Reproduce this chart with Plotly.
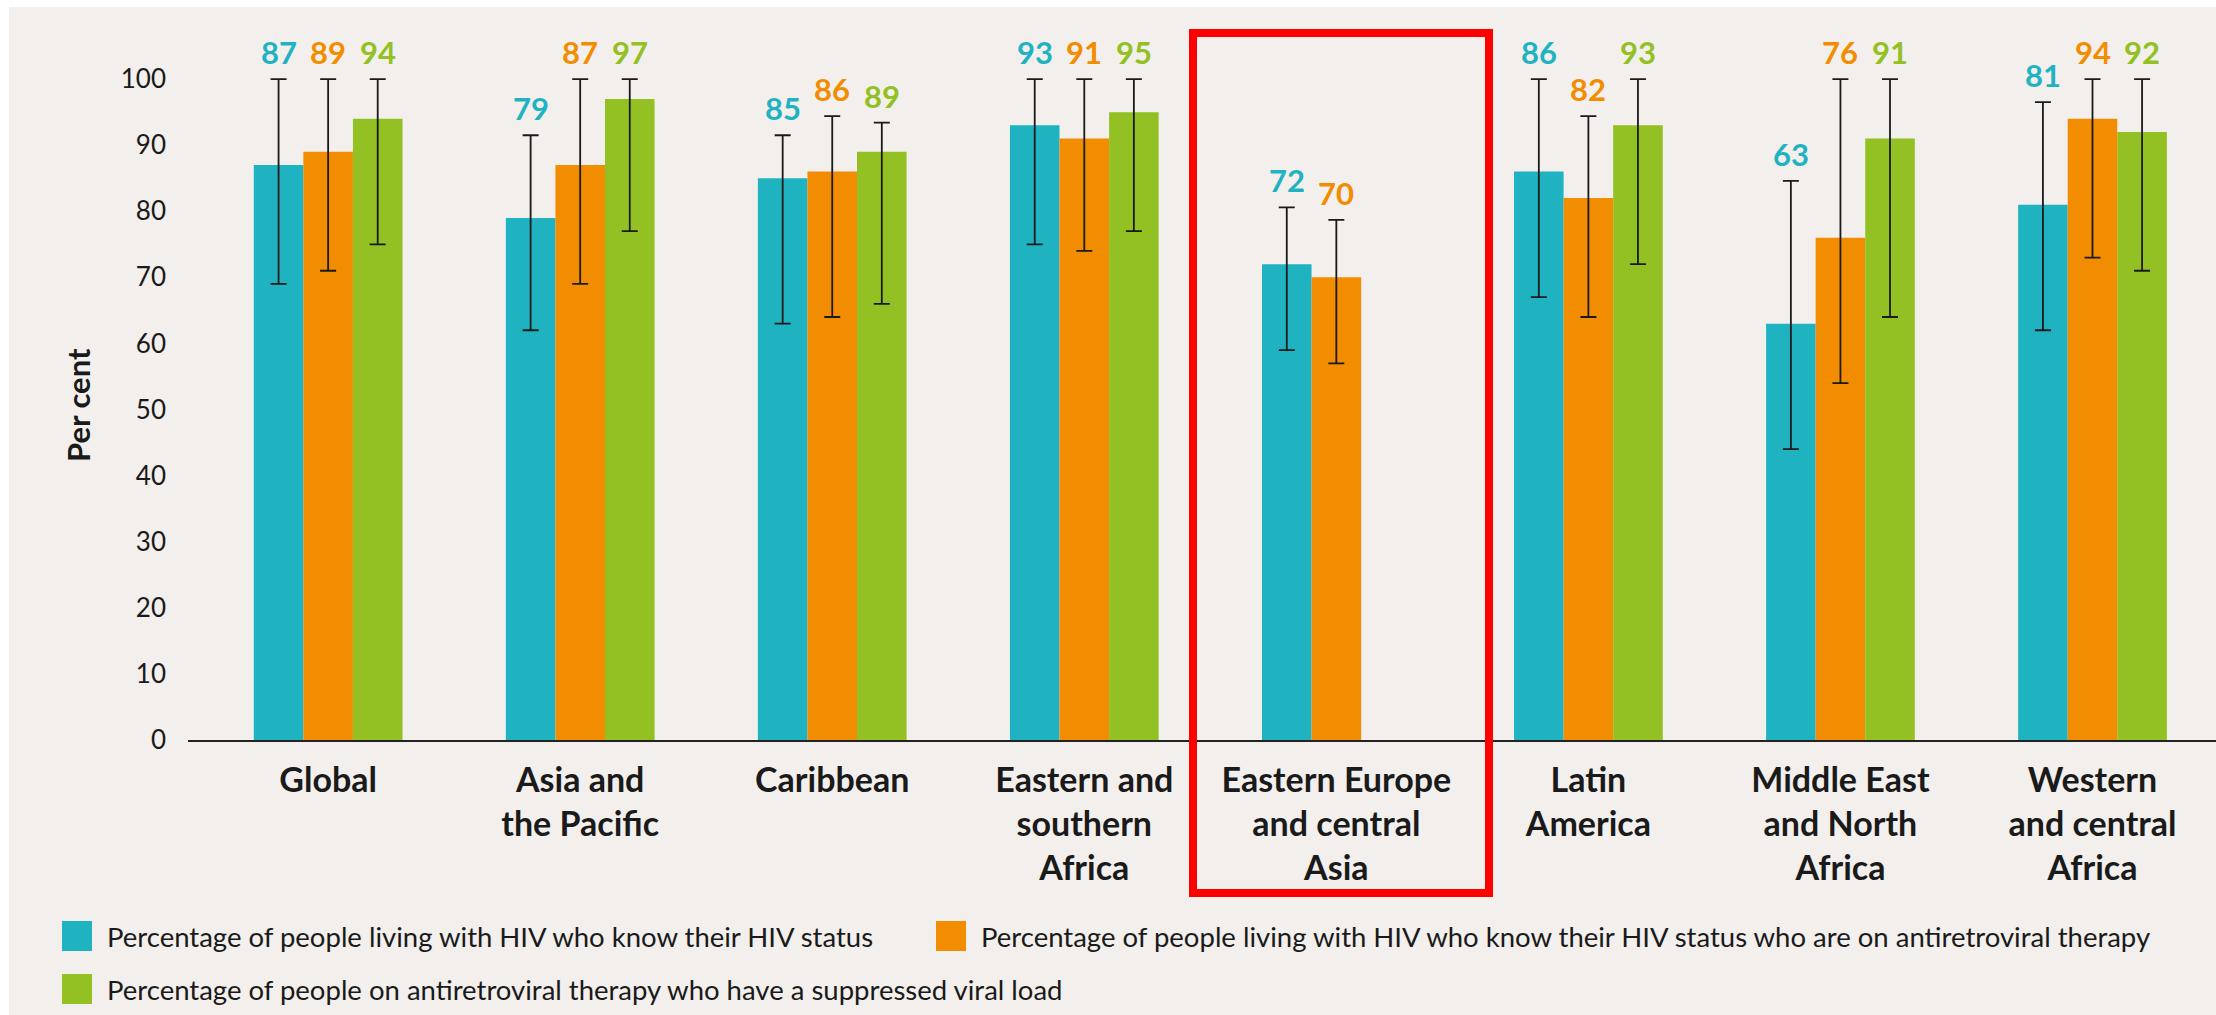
import plotly.graph_objects as go

# Regions (x categories)
regions = [
    "Global",
    "Asia and<br>the Pacific",
    "Caribbean",
    "Eastern and<br>southern<br>Africa",
    "Eastern Europe<br>and central<br>Asia",
    "Latin<br>America",
    "Middle East<br>and North<br>Africa",
    "Western<br>and central<br>Africa",
]

# Percentage of people living with HIV who know their HIV status
know_status = [87, 79, 85, 93, 72, 86, 63, 81]
know_status_low = [69, 62, 63, 75, 59, 67, 44, 62]
know_status_high = [100, 91.5, 91.5, 100, 80.6, 100, 84.6, 96.5]

# ... who know their status and are on antiretroviral therapy
on_art = [89, 87, 86, 91, 70, 82, 76, 94]
on_art_low = [71, 69, 64, 74, 57, 64, 54, 73]
on_art_high = [100, 100, 94.4, 100, 78.7, 94.4, 100, 100]

# ... on antiretroviral therapy who have a suppressed viral load
suppressed = [94, 97, 89, 95, None, 93, 91, 92]
suppressed_low = [75, 77, 66, 77, None, 72, 64, 71]
suppressed_high = [100, 100, 93.4, 100, None, 100, 100, 100]

series_names = [
    "Percentage of people living with HIV who know their HIV status",
    "Percentage of people living with HIV who know their HIV status who are on antiretroviral therapy",
    "Percentage of people on antiretroviral therapy who have a suppressed viral load",
]
colors = ["#1FB3C2", "#F28C00", "#93C022"]

BG = "#F2EFEC"
INK = "#1a1a1a"
FONT = "Lato"

W, H = 2216, 1015
ML, MR, MT, MB = 188, 0, 13, 275
BARGAP = 0.41


def px_x(px):
    return (px - ML) / (W - ML - MR)


def px_y(py):
    return (H - MB - py) / (H - MT - MB)


series = [
    (know_status, know_status_low, know_status_high),
    (on_art, on_art_low, on_art_high),
    (suppressed, suppressed_low, suppressed_high),
]

fig = go.Figure()
for name, color, (vals, lows, highs) in zip(series_names, colors, series):
    plus = [h - v if v is not None else None for v, h in zip(vals, highs)]
    minus = [v - l if v is not None else None for v, l in zip(vals, lows)]
    fig.add_trace(
        go.Bar(
            x=regions,
            y=vals,
            name=name,
            marker=dict(color=color, line=dict(width=0)),
            error_y=dict(
                type="data",
                symmetric=False,
                array=plus,
                arrayminus=minus,
                color=INK,
                thickness=1.8,
                width=8,
            ),
        )
    )

# value labels above the upper error bound
bw = (1 - BARGAP) / 3
annotations = []
for j, (color, (vals, lows, highs)) in enumerate(zip(colors, series)):
    for i, (v, h) in enumerate(zip(vals, highs)):
        if v is None:
            continue
        annotations.append(
            dict(
                x=i + (j - 1) * bw,
                y=h,
                xref="x",
                yref="y",
                text=f"{v}",
                showarrow=False,
                yanchor="middle",
                yshift=27,
                font=dict(family=FONT, size=31, color=color, weight="bold"),
            )
        )

# y axis title
annotations.append(
    dict(
        x=px_x(78), y=px_y(405), xref="paper", yref="paper",
        text="Per cent", textangle=-90, showarrow=False,
        xanchor="center", yanchor="middle",
        font=dict(family=FONT, size=31, color=INK, weight="bold"),
    )
)

# legend (drawn by hand to get the large swatches)
legend_items = [
    (colors[0], series_names[0], 62, 936, 105),
    (colors[1], series_names[1], 936, 936, 979),
    (colors[2], series_names[2], 62, 989, 105),
]
shapes = []
for color, label, sx, cy, tx in legend_items:
    shapes.append(
        dict(
            type="rect", xref="paper", yref="paper",
            x0=px_x(sx), x1=px_x(sx + 30), y0=px_y(cy - 15), y1=px_y(cy + 15),
            fillcolor=color, line=dict(width=0),
        )
    )
    annotations.append(
        dict(
            x=px_x(tx), y=px_y(cy), xref="paper", yref="paper",
            text=label, showarrow=False, xanchor="left", yanchor="middle",
            font=dict(family=FONT, size=27.5, color=INK),
        )
    )

# highlight box around Eastern Europe and central Asia
shapes.append(
    dict(
        type="rect", xref="paper", yref="paper",
        x0=px_x(1193), x1=px_x(1489), y0=px_y(893), y1=px_y(33),
        line=dict(color="#FF0000", width=8), fillcolor="rgba(0,0,0,0)",
        layer="above",
    )
)

# white frame strips at top and left
shapes.append(dict(type="rect", xref="paper", yref="paper", x0=px_x(0), x1=px_x(W),
                   y0=px_y(7), y1=px_y(0), fillcolor="white", line=dict(width=0)))
shapes.append(dict(type="rect", xref="paper", yref="paper", x0=px_x(0), x1=px_x(9),
                   y0=px_y(H), y1=px_y(0), fillcolor="white", line=dict(width=0)))

fig.update_layout(
    width=W,
    height=H,
    margin=dict(l=ML, r=MR, t=MT, b=MB),
    paper_bgcolor=BG,
    plot_bgcolor=BG,
    barmode="group",
    bargap=BARGAP,
    bargroupgap=0,
    showlegend=False,
    font=dict(family=FONT, color=INK),
    annotations=annotations,
    shapes=shapes,
)
fig.update_xaxes(
    range=[-0.556, 7.49],
    showline=True,
    linecolor="#222222",
    linewidth=2,
    showgrid=False,
    zeroline=False,
    ticks="",
    ticklabelstandoff=9,
    tickfont=dict(family=FONT, size=34, color=INK, weight="bold"),
)
fig.update_yaxes(
    range=[0, 110],
    tickvals=[0, 10, 20, 30, 40, 50, 60, 70, 80, 90, 100],
    showgrid=False,
    zeroline=False,
    showline=False,
    ticks="",
    ticklabelstandoff=21,
    tickfont=dict(family=FONT, size=26, color=INK),
)

fig.write_html(
    "out.html",
    config={"displayModeBar": False},
    post_script="document.body.style.margin='0';",
)
